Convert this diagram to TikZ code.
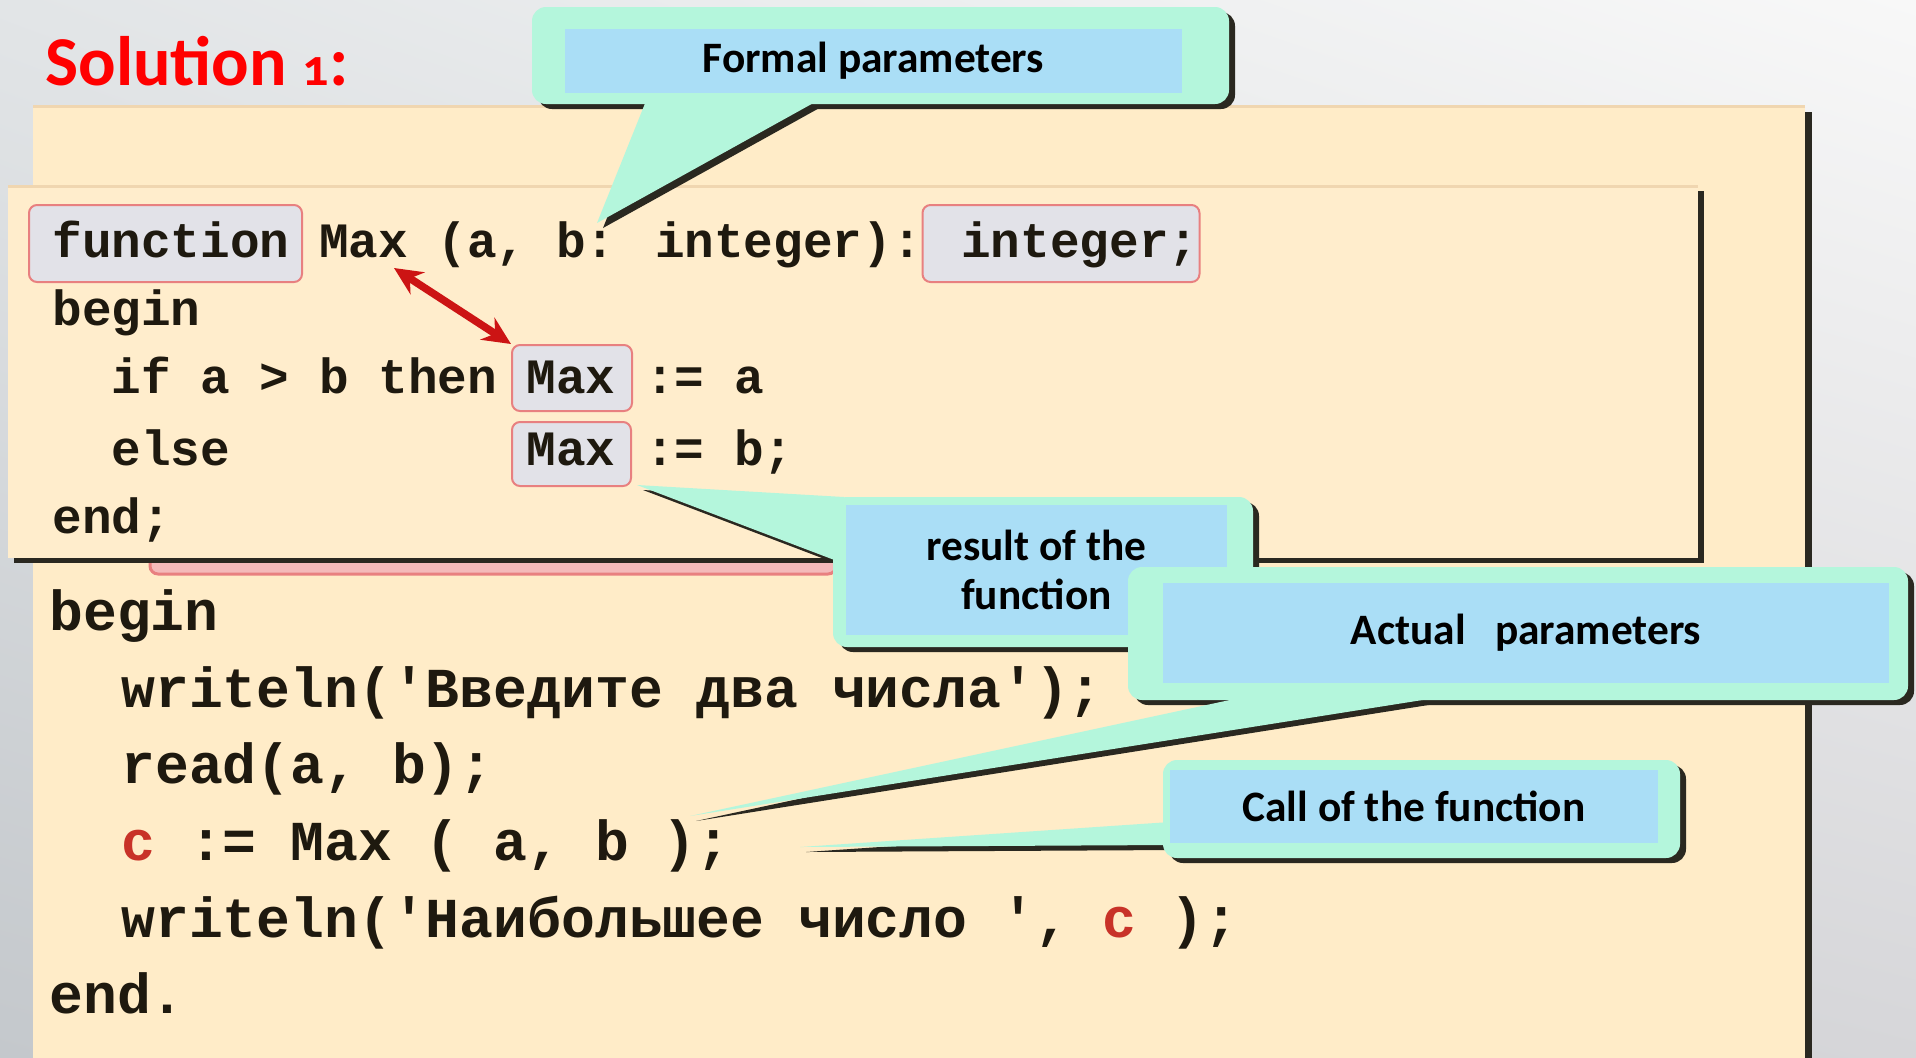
\documentclass[tikz,border=0pt]{standalone}
\usepackage{fontspec}
\setmainfont{Carlito}
\newfontfamily\codefont{Liberation Mono}[Ligatures=TeXOff]
\newfontfamily\labelfont{Carlito}[Numbers=OldStyle]
\usetikzlibrary{arrows.meta, positioning, shadings}

\definecolor{bgtl}{RGB}{226,229,231}
\definecolor{bgtr}{RGB}{248,248,248}
\definecolor{bgbl}{RGB}{196,200,204}
\definecolor{bgbr}{RGB}{214,214,217}
\definecolor{panelcream}{RGB}{255,236,200}
\definecolor{boxcream}{RGB}{255,237,204}
\definecolor{paneledge}{RGB}{240,214,176}
\definecolor{shadowdark}{RGB}{42,40,32}
\definecolor{mintfill}{RGB}{180,246,220}
\definecolor{tipblue}{RGB}{170,222,246}
\definecolor{hlgray}{RGB}{226,226,232}
\definecolor{hlred}{RGB}{232,128,128}
\definecolor{hlpink}{RGB}{244,186,186}
\definecolor{arrowred}{RGB}{204,20,20}
\definecolor{codered}{RGB}{200,50,40}
\definecolor{codeink}{RGB}{30,25,15}

\tikzset{
    codefn/.style = {anchor=base west, inner sep=0pt, text=codeink,
      font=\codefont\bfseries\fontsize{24.7}{30}\selectfont},
    codemain/.style = {anchor=base west, inner sep=0pt, text=codeink,
      font=\codefont\bfseries\fontsize{28.2}{34}\selectfont},
    hlbox/.style = {draw=hlred, fill=hlgray, rounded corners=4pt, line width=1pt, inner sep=0pt},
    tipbox/.style = {fill=tipblue, inner sep=0pt, align=center,
      font=\labelfont\bfseries\fontsize{21.7}{24.5}\selectfont},
    bubbleshadow/.style = {fill=shadowdark, shift={(6,5)}},
    bubblefill/.style = {fill=mintfill},
    twoway/.style = {arrowred, line width=3.8pt,
      {Stealth[length=14pt,width=13pt]}-{Stealth[length=14pt,width=13pt]}}
}

% callout: box corners #1, #2 and pointer #3
\newcommand{\bubble}[3]{%
  \fill[bubbleshadow, rounded corners=7pt] #1 rectangle #2;
  \fill[bubbleshadow] #3 -- cycle;
  \fill[bubblefill, rounded corners=7pt] #1 rectangle #2;
  \fill[bubblefill] #3 -- cycle;}

\begin{document}
\begin{tikzpicture}[x=0.5pt, y=-0.5pt]
\useasboundingbox (0,0) rectangle (1916,1057);
\shade[upper left=bgtl, upper right=bgtr, lower left=bgbl, lower right=bgbr] (0,0) rectangle (1916,1057);

% program panel
\fill[shadowdark] (40,112) rectangle (1812,1070);
\fill[panelcream] (33,106) rectangle (1805,1070);
\draw[paneledge, line width=1.5pt] (33,106) -- (1805,106);
\draw[hlred, fill=hlpink, line width=1.5pt, rounded corners=4pt] (150,500) rectangle (836,574);

% function panel
\fill[shadowdark] (14,191) rectangle (1704,563);
\fill[boxcream] (8,186) rectangle (1698,558);
\draw[paneledge, line width=1.5pt] (8,186) -- (1698,186);

\node[hlbox, minimum width=136.5pt, minimum height=38.5pt] (fnkw) at (165.5,243.5) {};
\node[hlbox, minimum width=138.5pt, minimum height=38.5pt] (intkw) at (1061,243.5) {};
\node[hlbox, minimum width=60pt, minimum height=33pt] (maxthen) at (572,378) {};
\node[hlbox, minimum width=59.5pt, minimum height=32pt] (maxelse) at (571.5,454) {};

\node[codefn] (fline1) at (52,257) {function Max (a, b: integer): integer;};
\node[codefn] (fline2) at (52,325) {begin};
\node[codefn] (fline3) at (52,393) {~~if a > b then Max := a};
\node[codefn] (fline4) at (52,465) {~~else~~~~~~~~~~Max := b;};
\node[codefn] (fline5) at (52,533) {end;};

\coordinate (maxname) at (394,268);
\draw[twoway] (maxname) -- (maxthen.north west);

% main program
\node[codemain] (mbegin) at (49,630) {begin};
\node[codemain] (mwrite1) at (121,707) {writeln('Введите два числа');};
\node[codemain] (mread) at (121,783) {read(a, b);};
\node[codemain] (mcall) at (121,860) {\textcolor{codered}{c} := Max ( a, b );};
\node[codemain] (mwrite2) at (121,937) {writeln('Наибольшее число ', \textcolor{codered}{c} );};
\node[codemain] (mend) at (49,1013) {end.};

% callouts
\bubble{(532,7)}{(1229,104)}{(648,96) -- (597,223) -- (826,96)}
\node[tipbox, minimum width=308.5pt, minimum height=32pt] (formal) at (873.5,61) {Formal parameters};

\bubble{(833,497)}{(1253,647)}{(844,497) -- (637,485) -- (837,561)}
\node[tipbox, minimum width=190.5pt, minimum height=65pt] (result) at (1036.5,570) {result of the\\function};

\bubble{(1128,567)}{(1908,700)}{(1253,695) -- (690,816) -- (1454,695)}
\node[tipbox, minimum width=363pt, minimum height=50pt] (actual) at (1526,633) {Actual~~~parameters};

\bubble{(1163,760)}{(1680,858)}{(1170,822) -- (800,847) -- (1170,845)}
\node[tipbox, minimum width=244pt, minimum height=36.5pt] (call) at (1414,806.5) {Call of the function};

\node[anchor=base west, inner sep=0pt, text=red,
  font=\labelfont\bfseries\fontsize{35}{40}\selectfont] (title) at (45,85)
  {Solution {\fontsize{26}{30}\selectfont 1}:};
\end{tikzpicture}
\end{document}
